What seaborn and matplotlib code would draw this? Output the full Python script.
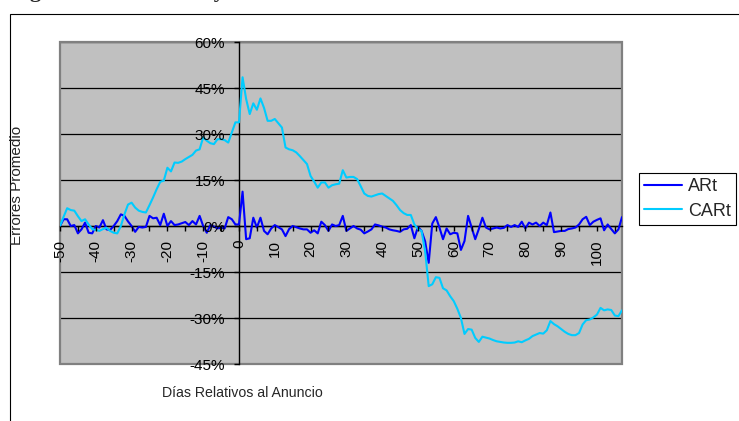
import numpy as np
import pandas as pd
import matplotlib
matplotlib.use('Agg')
import matplotlib.pyplot as plt
from matplotlib.patches import Rectangle
from matplotlib.ticker import FuncFormatter, MultipleLocator
import seaborn as sns

# retornos acumulados (%), dias -50 .. 107
car = [0.0, 3.0, 5.8, 5.2, 5.0, 3.2, 1.6, 2.2, 0.5, -1.0,
       -1.3, -1.6, -1.0, -0.6, -1.6, -2.2, -2.4, 0.0, 3.8, 7.0,
       7.6, 6.0, 5.0, 4.6, 4.4, 6.8, 9.3, 12.0, 14.4, 14.8,
       19.0, 17.8, 20.7, 20.6, 21.0, 21.8, 22.5, 23.2, 24.6, 25.0,
       28.9, 27.8, 27.0, 26.7, 28.3, 28.3, 28.0, 27.2, 30.5, 33.8,
       33.8, 48.5, 41.4, 36.5, 40.0, 37.9, 41.6, 38.5, 34.3, 34.3,
       34.9, 33.5, 32.1, 25.6, 25.0, 24.7, 24.0, 22.8, 21.5, 20.2,
       16.3, 14.5, 12.5, 14.2, 14.2, 12.5, 13.3, 13.6, 13.8, 18.2,
       15.8, 16.0, 16.0, 15.3, 13.0, 10.6, 9.8, 9.6, 10.0, 10.4,
       10.6, 9.8, 9.0, 8.2, 6.8, 5.2, 4.2, 3.6, 3.6, 0.5,
       -1.0, -1.6, -8.2, -19.6, -19.0, -16.7, -16.9, -20.3, -21.0, -22.9,
       -24.5, -27.0, -30.0, -35.2, -33.6, -33.8, -36.5, -37.8, -36.1, -36.4,
       -36.7, -37.2, -37.6, -37.8, -38.0, -38.1, -38.1, -38.0, -37.6, -37.9,
       -37.3, -36.8, -35.9, -35.4, -34.9, -35.1, -34.0, -31.0, -32.0, -32.7,
       -33.6, -34.5, -35.2, -35.6, -35.6, -34.9, -32.1, -30.7, -30.5, -29.8,
       -28.9, -26.7, -27.5, -27.2, -27.4, -29.2, -29.4, -27.5]

# retornos anormales (%)
ar = [0.0, 2.2, 2.2, 0.0, 0.3, -2.4, -1.1, 1.1, -2.2, -2.4,
      0.0, -0.5, 1.9, -1.1, -1.3, 0.0, 1.6, 3.8, 3.3, 1.5,
      0.0, -1.9, -0.3, -0.5, -0.3, 3.3, 2.5, 2.7, 0.3, 4.0,
      0.0, 1.6, 0.3, 0.5, 0.9, 1.3, 0.3, 1.6, 0.5, 3.3,
      0.0, -2.2, 0.3, -0.2, -0.8, -0.5, -0.8, 2.9, 2.2, 0.5,
      0.5, 11.2, -4.3, -4.0, 2.7, -0.5, 2.7, -1.6, -2.7, -0.8,
      0.3, -0.4, -1.1, -3.3, -1.0, 0.0, -0.4, -0.8, -1.1, -1.1,
      -2.2, -1.4, -2.4, 1.4, 0.3, -1.6, 0.5, 0.0, 0.3, 3.3,
      -1.6, -0.8, 0.0, -0.8, -1.2, -2.4, -1.8, -1.1, 0.5, 0.2,
      -0.2, -0.5, -1.1, -1.4, -1.6, -1.9, -1.1, -0.9, 0.3, -4.0,
      -0.3, -1.6, -5.0, -12.0, 0.8, 2.9, -0.5, -4.3, -0.8, -2.7,
      -2.2, -2.4, -7.8, -4.9, 3.3, -0.5, -4.3, -1.0, 2.7, -0.5,
      -1.1, -0.8, -0.5, -0.8, -0.6, 0.3, -0.3, 0.3, -0.3, 1.4,
      -0.8, 1.1, 0.5, 1.1, 0.0, 1.1, 0.3, 4.4, -2.0, -1.8,
      -1.6, -1.6, -1.0, -0.8, -0.5, 0.5, 2.2, 3.0, 0.3, 1.4,
      2.0, 2.5, -1.4, 0.5, -1.0, -2.4, -1.1, 2.9]

dias = np.arange(-50, -50 + len(car))
series = ['ARt', 'CARt']
colores = {'ARt': '#0000FF', 'CARt': '#00CCFF'}
niveles_y = list(range(-45, 61, 15))

df = pd.DataFrame({
    'Dia': np.concatenate([dias, dias]),
    'Valor': ar + car,
    'Serie': ['ARt'] * len(ar) + ['CARt'] * len(car),
})

sns.set_style('white')
plt.rcParams['font.family'] = ['Liberation Sans', 'DejaVu Sans']
plt.rcParams['axes.unicode_minus'] = False

W, H = 739, 421
fig = plt.figure(figsize=(W / 100, H / 100), dpi=100)
ax = fig.add_axes([60 / W, (H - 364) / H, 562 / W, 322 / H])
ax.set_facecolor('#C0C0C0')

sns.lineplot(data=df, x='Dia', y='Valor', hue='Serie', hue_order=series,
             palette=colores, linewidth=1.5, ax=ax, zorder=3)

ax.set_xlim(-50, 107)
ax.set_ylim(-45, 60)
ax.set_xlabel('')
ax.set_ylabel('')

# lineas de division horizontales
ax.grid(False)
for v in niveles_y:
    ax.axhline(v, color='black', linewidth=0.9, zorder=1)

# ejes cruzando en cero
for s in ['top', 'right']:
    ax.spines[s].set_visible(False)
ax.spines['left'].set_position(('data', 0))
ax.spines['bottom'].set_position(('data', 0))
for s in ['left', 'bottom']:
    ax.spines[s].set_color('black')
    ax.spines[s].set_linewidth(1.0)
    ax.spines[s].set_zorder(2.5)

ax.set_yticks(niveles_y)
ax.yaxis.set_major_formatter(FuncFormatter(lambda v, p: f"{v:.0f}%"))
ax.xaxis.set_major_locator(MultipleLocator(10))
ax.xaxis.set_minor_locator(MultipleLocator(5))
ax.tick_params(axis='both', which='both', direction='out', length=3.5,
               width=1, color='black', labelsize=11, labelcolor='black', pad=6.5)
ax.tick_params(axis='x', which='major', labelrotation=90)
ax.tick_params(left=True, bottom=True)
ax.tick_params(axis='x', which='minor', bottom=True)
ax.xaxis.set_zorder(4)
ax.yaxis.set_zorder(4)

# marco gris del area de trazado
ax.add_patch(Rectangle((0, 0), 1, 1, transform=ax.transAxes, fill=False,
                       edgecolor='#808080', linewidth=1.6, zorder=2.2, clip_on=False))

# borde exterior del grafico
fig.add_artist(Rectangle((9.5 / W, -0.1), 1.2, (H - 13.5) / H + 0.1,
                         transform=fig.transFigure, fill=False,
                         edgecolor='black', linewidth=0.8))

fig.text(17 / W, 1 - 185 / H, 'Errores Promedio', rotation=90,
         ha='center', va='center', fontsize=11)
fig.text(242 / W, 1 - 393 / H, 'Días Relativos al Anuncio',
         ha='center', va='center', fontsize=10.2)
fig.text(10 / W, 1 + 3 / H, 'Figura 4: Resultados y Rendimientos Anormales',
         ha='left', va='baseline', fontsize=16, fontweight='bold',
         family='Liberation Serif')

handles, labels = ax.get_legend_handles_labels()
ax.get_legend().remove()
leg = fig.legend(handles, labels, loc='upper left',
                 bbox_to_anchor=(639 / W, 1 - 173 / H), frameon=True,
                 fancybox=False, edgecolor='black', framealpha=1,
                 fontsize=13, handlelength=2.1, labelspacing=0.4,
                 borderpad=0.3, handletextpad=0.3, borderaxespad=0)
leg.get_frame().set_linewidth(0.8)

fig.savefig('out.png', dpi=100)
